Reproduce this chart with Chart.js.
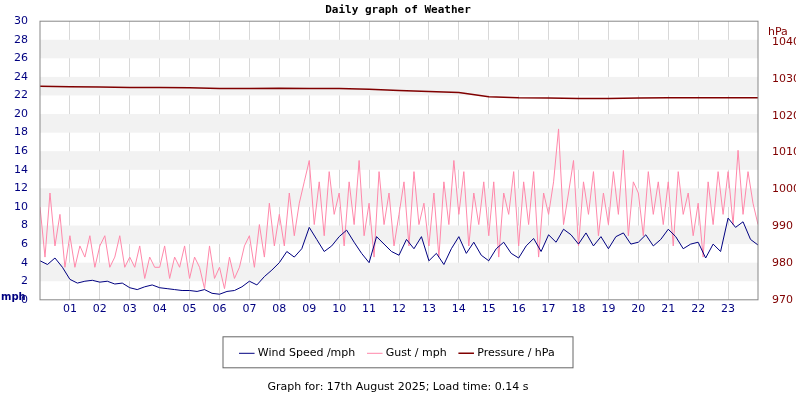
<!DOCTYPE html>
<html>
<head>
<meta charset="utf-8">
<script src="https://cdn.jsdelivr.net/npm/chart.js@4"></script>
<style>
body { margin: 0; background: #fff; }
#wrap { width: 800px; height: 400px; }
</style>
</head>
<body>
<div id="wrap"><canvas id="chartWeather"></canvas></div>
<script>
// wind speed, every 15 minutes (mph)
const WIND = [4.2,3.8,4.5,3.5, 2.2,1.8,2.0,2.1, 1.9,2.0,1.7,1.8, 1.3,1.1,1.4,1.6,
    1.3,1.2,1.1,1.0, 1.0,0.9,1.1,0.7, 0.6,0.9,1.0,1.4, 2.0,1.6,2.5,3.2,
    4.0,5.2,4.6,5.5, 7.8,6.5,5.2,5.8, 6.8,7.5,6.2,5.0, 4.0,6.8,6.0,5.2,
    4.8,6.5,5.5,6.8, 4.2,5.0,3.8,5.5, 6.8,5.0,6.2,4.8, 4.2,5.5,6.2,5.0,
    4.5,5.8,6.6,5.2, 7.0,6.2,7.6,7.0, 6.0,7.2,5.8,6.8, 5.5,6.8,7.2,6.0,
    6.2,7.0,5.8,6.5, 7.6,6.8,5.5,6.0, 6.2,4.5,6.0,5.2, 8.8,7.8,8.4,6.5, 5.9];
// gust, every 10 minutes (mph)
const GUST = [10,4.6,11.5,5.8,9.2,3.5, 6.9,3.5,5.8,4.6,6.9,3.5, 5.8,6.9,3.5,4.6,6.9,3.5,
    4.6,3.5,5.8,2.3,4.6,3.5, 3.5,5.8,2.3,4.6,3.5,5.8, 2.3,4.6,3.5,1.2,5.8,2.3,
    3.5,1.2,4.6,2.3,3.5,5.8, 6.9,3.5,8.1,4.6,10.4,5.8, 9.2,5.8,11.5,6.9,10.4,12.7,
    15,8.1,12.7,6.9,13.8,9.2, 11.5,5.8,12.7,8.1,15,6.9, 10.4,4.6,13.8,8.1,11.5,5.8,
    9.2,12.7,5.8,13.8,8.1,10.4, 5.8,11.5,4.6,12.7,8.1,15, 9.2,13.8,5.8,11.5,8.1,12.7,
    6.9,12.7,4.6,11.5,9.2,13.8, 5.8,12.7,8.1,13.8,4.6,11.5, 9.2,12.7,18.4,8.1,11.5,15,
    5.8,12.7,9.2,13.8,6.9,11.5, 8.1,13.8,9.2,16.1,6.9,12.7, 11.5,6.9,13.8,9.2,12.7,8.1,
    12.7,5.8,13.8,9.2,11.5,6.9, 10.4,4.6,12.7,8.1,13.8,9.2, 13.8,8.1,16.1,9.2,13.8,10.4, 8.1];
// pressure, hourly (hPa)
const PRESSURE = [1028.0,1027.9,1027.8,1027.7,1027.7,1027.6,1027.4,1027.4,1027.5,1027.4,
    1027.4,1027.2,1026.9,1026.6,1026.3,1025.2,1024.9,1024.8,1024.7,1024.7,1024.8,
    1024.9,1024.9,1024.9,1024.9];
const HOUR_TICKS = [1,2,3,4,5,6,7,8,9,10,11,12,13,14,15,16,17,18,19,20,21,22,23];
const HPA_TICKS = [970,980,990,1000,1010,1020,1030,1040];

const asXY = (arr, perHour) => arr.map((v, i) => ({ x: i / perHour, y: v }));

const bands = {
    id: "bands",
    beforeDatasetsDraw(chart) {
        const { ctx, chartArea: a, scales: { y } } = chart;
        ctx.save();
        ctx.fillStyle = "#f2f2f2";
        for (let v = 2; v < 30; v += 4) {
            const top = y.getPixelForValue(v + 2), bot = y.getPixelForValue(v);
            ctx.fillRect(a.left, top, a.right - a.left, bot - top);
        }
        ctx.restore();
    },
    afterDraw(chart) {
        const { ctx, chartArea: a, legend } = chart;
        ctx.save();
        ctx.font = "bold 10px 'DejaVu Sans'";
        ctx.fillStyle = "#000080";
        ctx.textAlign = "left";
        ctx.fillText("mph", 1, a.bottom - 2);
        ctx.font = "11px 'DejaVu Sans'";
        ctx.fillStyle = "#800000";
        ctx.fillText("hPa", a.right + 10, a.top + 11);
        ctx.strokeStyle = "#888";
        ctx.strokeRect(a.left, a.top, a.right - a.left, a.bottom - a.top);
        // box around legend
        const w = 350, cx = (legend.left + legend.right) / 2;
        ctx.strokeStyle = "#666";
        ctx.strokeRect(cx - w / 2, legend.top + 3, w, legend.height - 4);
        ctx.restore();
    }
};

new Chart(document.getElementById("chartWeather"), {
    type: "line",
    data: {
        datasets: [
            { label: "Wind Speed /mph", data: asXY(WIND, 4), borderColor: "#000080", backgroundColor: "#000080", borderWidth: 1, yAxisID: "y", order: 1 },
            { label: "Gust / mph", data: asXY(GUST, 6), borderColor: "#ff88aa", backgroundColor: "#ff88aa", borderWidth: 1, yAxisID: "y", order: 2 },
            { label: "Pressure / hPa", data: asXY(PRESSURE, 1), borderColor: "#800000", backgroundColor: "#800000", borderWidth: 1.5, yAxisID: "y1", order: 0 }
        ]
    },
    options: {
        responsive: true,
        maintainAspectRatio: false,
        animation: false,
        elements: { point: { radius: 0 }, line: { tension: 0 } },
        layout: { padding: { top: 2, right: 4, left: 0, bottom: 4 } },
        plugins: {
            title: { display: true, text: "Daily graph of Weather", color: "#000", font: { family: "DejaVu Sans Mono", size: 11, weight: "bold" }, padding: { top: 2, bottom: 4 } },
            legend: {
                position: "bottom",
                labels: { usePointStyle: true, pointStyle: "line", color: "#000", font: { family: "DejaVu Sans", size: 11 }, padding: 14,
                    sort: (a, b) => a.datasetIndex - b.datasetIndex }
            },
            subtitle: { display: true, position: "bottom", text: "Graph for: 17th August 2025; Load time: 0.14 s", color: "#000", font: { family: "DejaVu Sans", size: 11 }, padding: { top: 12, bottom: 2 } },
            tooltip: { enabled: false }
        },
        scales: {
            x: {
                type: "linear", min: 0, max: 24,
                afterBuildTicks: s => { s.ticks = HOUR_TICKS.map(v => ({ value: v })); },
                ticks: { color: "#000080", font: { family: "DejaVu Sans", size: 11 }, autoSkip: false, maxRotation: 0, callback: v => String(v).padStart(2, "0") },
                grid: { color: "#d8d8d8", drawTicks: false },
                border: { display: false },
                afterFit: s => { s.height = 34; }
            },
            y: {
                position: "left", min: 0, max: 30,
                ticks: { stepSize: 2, color: "#000080", font: { family: "DejaVu Sans", size: 11 }, padding: 4 },
                grid: { display: false },
                border: { display: false },
                afterFit: s => { s.width = 40; }
            },
            y1: {
                position: "right", min: 970, max: 1045.7,
                afterBuildTicks: s => { s.ticks = HPA_TICKS.map(v => ({ value: v })); },
                ticks: { color: "#800000", font: { family: "DejaVu Sans", size: 11 }, padding: 6, callback: v => String(v) },
                grid: { display: false },
                border: { display: false },
                afterFit: s => { s.width = 38; }
            }
        }
    },
    plugins: [bands]
});
</script>
</body>
</html>
